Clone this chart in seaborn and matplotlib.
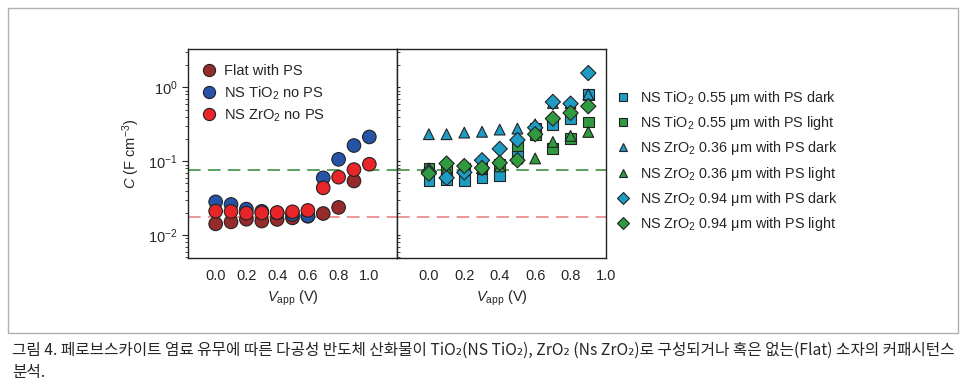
import numpy as np
import pandas as pd
import matplotlib
matplotlib.use("Agg")
import matplotlib.pyplot as plt
import seaborn as sns
from matplotlib.patches import Rectangle
from matplotlib.ticker import LogLocator, NullFormatter, FixedLocator

# --- données ---
V_LEFT = [0.0, 0.1, 0.2, 0.3, 0.4, 0.5, 0.6, 0.7, 0.8, 0.9, 1.0]
V_RIGHT = [0.0, 0.1, 0.2, 0.3, 0.4, 0.5, 0.6, 0.7, 0.8, 0.9]

flat_ps = [0.0142, 0.0151, 0.0164, 0.0155, 0.0163, 0.0171, 0.018, 0.0196, 0.0237, 0.054, np.nan]
tio2_nops = [0.0282, 0.026, 0.0225, 0.021, 0.020, 0.019, 0.0182, 0.0595, 0.106, 0.163, 0.213]
zro2_nops = [0.0211, 0.0209, 0.0198, 0.020, 0.0202, 0.0207, 0.0216, 0.0436, 0.0608, 0.077, 0.091]

tio2_055_dark = [0.0554, 0.056, 0.055, 0.060, 0.0647, 0.118, 0.276, 0.316, 0.377, 0.796]
tio2_055_light = [0.0797, 0.074, 0.080, 0.079, 0.091, 0.164, 0.232, 0.148, 0.202, 0.34]
zro2_036_dark = [0.232, 0.232, 0.244, 0.25, 0.268, 0.276, 0.316, 0.614, 0.61, 0.80]
zro2_036_light = [0.080, 0.080, 0.082, 0.081, 0.085, 0.109, 0.109, 0.182, 0.22, 0.249]
zro2_094_dark = [0.0718, 0.0595, 0.0705, 0.103, 0.147, 0.194, 0.285, 0.634, 0.601, 1.56]
zro2_094_light = [0.068, 0.093, 0.086, 0.081, 0.095, 0.103, 0.232, 0.377, 0.45, 0.554]

REF_GREEN = 0.075
REF_RED = 0.0177

LEFT_LABELS = ["Flat with PS", "NS TiO$_2$ no PS", "NS ZrO$_2$ no PS"]
RIGHT_LABELS = ["NS TiO$_2$ 0.55 \u03bcm with PS dark", "NS TiO$_2$ 0.55 \u03bcm with PS light",
                "NS ZrO$_2$ 0.36 \u03bcm with PS dark", "NS ZrO$_2$ 0.36 \u03bcm with PS light",
                "NS ZrO$_2$ 0.94 \u03bcm with PS dark", "NS ZrO$_2$ 0.94 \u03bcm with PS light"]
CAPTION_1 = ("그림 4. 페로브스카이트 염료 유무에 따른 다공성 반도체 산화물이 TiO\u2082(NS TiO\u2082), "
             "ZrO\u2082 (Ns ZrO\u2082)로 구성되거나 혹은 없는(Flat) 소자의 커패시턴스")
CAPTION_2 = "분석."

# --- construction des tables ---
df_left = pd.DataFrame({
    "V": V_LEFT * 3,
    "C": flat_ps + tio2_nops + zro2_nops,
    "serie": sum([[lab] * len(V_LEFT) for lab in LEFT_LABELS], []),
}).dropna()

right_series = [tio2_055_dark, tio2_055_light, zro2_036_dark, zro2_036_light, zro2_094_dark, zro2_094_light]
df_right = pd.DataFrame({
    "V": V_RIGHT * 6,
    "C": sum(right_series, []),
    "serie": sum([[lab] * len(V_RIGHT) for lab in RIGHT_LABELS], []),
})

sns.set_style("ticks")
plt.rcParams["font.family"] = ["Liberation Sans", "DejaVu Sans"]
plt.rcParams["mathtext.fontset"] = "custom"
plt.rcParams["mathtext.rm"] = "Liberation Sans"
plt.rcParams["mathtext.it"] = "Liberation Sans:italic"

fig = plt.figure(figsize=(9.66, 3.89), dpi=100)
fig.patches.append(Rectangle((8 / 966, 1 - 333 / 389), 950 / 966, 325 / 389,
                             transform=fig.transFigure, fill=False, edgecolor="#b0b0b0", lw=1.0))

ax1 = fig.add_axes([188 / 966, 1 - 258 / 389, 209 / 966, 209 / 389])
ax2 = fig.add_axes([397 / 966, 1 - 258 / 389, 209 / 966, 209 / 389], sharey=ax1)

left_pal = {LEFT_LABELS[0]: "#962b2b", LEFT_LABELS[1]: "#2453a8", LEFT_LABELS[2]: "#e8262a"}
sns.scatterplot(data=df_left, x="V", y="C", hue="serie", palette=left_pal, s=95,
                edgecolor="#222222", linewidth=0.8, ax=ax1, zorder=3)

cyan, green = "#1f9cc4", "#2f9a40"
right_pal = dict(zip(RIGHT_LABELS, [cyan, green] * 3))
right_mk = dict(zip(RIGHT_LABELS, ["s", "s", "^", "^", "D", "D"]))
sns.scatterplot(data=df_right, x="V", y="C", hue="serie", style="serie", palette=right_pal,
                markers=right_mk, s=60, edgecolor="#222222", linewidth=0.8, ax=ax2, zorder=3)

for ax in (ax1, ax2):
    ax.axhline(REF_GREEN, color="#4f9a4f", ls=(0, (7, 4)), lw=1.3, zorder=1)
    ax.axhline(REF_RED, color="#e89090", ls=(0, (7, 4)), lw=1.3, zorder=1)
    ax.set_yscale("log")
    ax.set_ylim(0.0049, 3.3)
    ax.set_xticks([0.0, 0.2, 0.4, 0.6, 0.8, 1.0])
    ax.set_xticklabels(["0.0", "0.2", "0.4", "0.6", "0.8", "1.0"])
    ax.tick_params(axis="x", labelsize=10.5, length=0, pad=8)
    ax.set_xlabel("$V_{\\rm app}$ (V)", fontsize=10.5, labelpad=4)
    for sp in ax.spines.values():
        sp.set_linewidth(1.0)
        sp.set_color("#222222")

ax1.set_xlim(-0.18, 1.18)
ax2.set_xlim(-0.18, 1.0)
ax1.yaxis.set_major_locator(FixedLocator([0.01, 0.1, 1.0]))
ax1.yaxis.set_minor_locator(LogLocator(base=10, subs=np.arange(2, 10)))
ax1.yaxis.set_minor_formatter(NullFormatter())
ax1.tick_params(axis="y", which="major", labelsize=10.5, length=4, direction="out")
ax1.tick_params(axis="y", which="minor", length=2.5, direction="out")
ax1.set_ylabel("$C$ (F cm$^{-3}$)", fontsize=10.5, labelpad=4)
ax2.tick_params(axis="y", which="both", labelleft=False, direction="in", length=2.5)
ax2.set_ylabel("")

h1, l1 = ax1.get_legend_handles_labels()
ax1.legend(h1, l1, loc="upper left", bbox_to_anchor=(-0.02, 0.975), frameon=False, fontsize=10.5,
           handletextpad=0.05, borderaxespad=0.3, labelspacing=0.4, markerscale=0.9)
h2, l2 = ax2.get_legend_handles_labels()
ax2.legend(h2, l2, loc="center left", bbox_to_anchor=(0.95, 0.464), frameon=False, fontsize=10.4,
           handletextpad=0.15, labelspacing=0.5, markerscale=0.75)

fig.text(12 / 966, 1 - 350 / 389, CAPTION_1, fontsize=11.3, va="center", ha="left",
         family=["Noto Sans CJK KR", "DejaVu Sans"])
fig.text(12 / 966, 1 - 372 / 389, CAPTION_2, fontsize=11.3, va="center", ha="left",
         family=["Noto Sans CJK KR", "DejaVu Sans"])

fig.savefig("out.png", dpi=100)
